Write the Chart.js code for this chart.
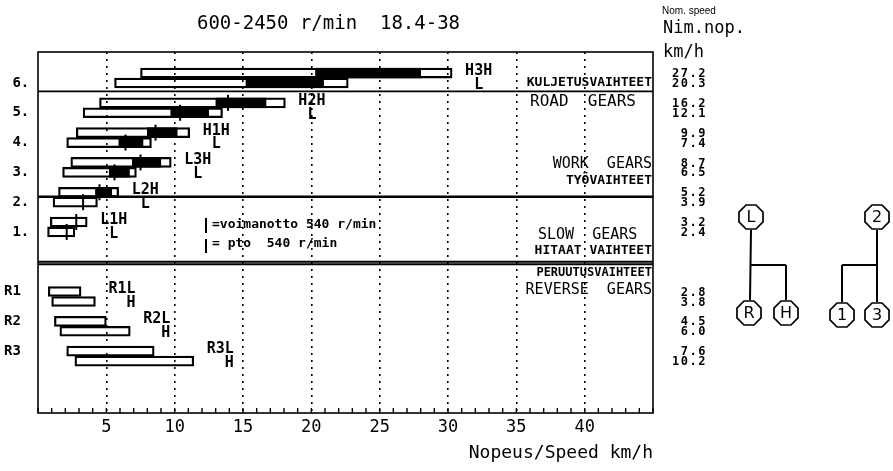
<!DOCTYPE html>
<html>
<head>
<meta charset="utf-8">
<script src="https://cdn.jsdelivr.net/npm/chart.js@4/dist/chart.umd.min.js"></script>
<style>
html, body { margin: 0; padding: 0; background: #fff; }
canvas { display: block; }
</style>
</head>
<body>
<canvas id="gearChart" width="893" height="471"></canvas>
<script>
// one entry per bar: upper/lower range of each gear (forward H/L, reverse L/H)
const rowSlots    = [0, 1, 3, 4, 6, 7, 9, 10, 12, 13, 15, 16, 22, 23, 25, 26, 28, 29];
const speedMin    = [7.5, 5.6, 4.5, 3.3, 2.8, 2.1, 2.4, 1.8, 1.5, 1.1, 0.9, 0.7, 0.75, 1.0, 1.2, 1.6, 2.1, 2.7];
const speedMax    = [30.3, 22.7, 18.1, 13.5, 11.1, 8.3, 9.75, 7.2, 5.9, 4.35, 3.6, 2.7, 3.15, 4.2, 5.0, 6.75, 8.5, 11.4];
const workMin     = [20.3, 15.2, 13.0, 9.7, 8.0, 5.9, 6.9, 5.2, 4.2, null, null, null, null, null, null, null, null, null];
const workMax     = [28.0, 20.9, 16.7, 12.5, 10.2, 7.7, 9.0, 6.7, 5.4, null, null, null, null, null, null, null, null, null];
const ptoSpeed    = [null, null, 13.9, 10.4, 8.6, 6.4, 7.5, 5.6, 4.5, 3.3, 2.8, 2.1, null, null, null, null, null, null];
const nominalSpeed = ['27.2', '20.3', '16.2', '12.1', '9.9', '7.4', '8.7', '6.5', '5.2', '3.9', '3.2', '2.4', '2.8', '3.8', '4.5', '6.0', '7.6', '10.2'];

const gearTicks  = [1, 4, 7, 10, 13, 16, 22, 25, 28];
const gearLabels = [' 6.', ' 5.', ' 4.', ' 3.', ' 2.', ' 1.', 'R1', 'R2', 'R3'];
const rangeNames = ['H3H', 'H2H', 'H1H', 'L3H', 'L2H', 'L1H', 'R1L', 'R2L', 'R3L'];
const rangeLower = ['L', 'L', 'L', 'L', 'L', 'L', 'H', 'H', 'H'];
const sectionBreaks = [1.85, 12.45, 19.0, 19.25];

const MONO = '"DejaVu Sans Mono", monospace';

function txt(ctx, s, x, y, font, align, spacing) {
    ctx.font = font;
    ctx.textAlign = align || 'left';
    ctx.textBaseline = 'middle';
    ctx.letterSpacing = (spacing || 0) + 'px';
    ctx.fillText(s, x, y);
    ctx.letterSpacing = '0px';
}

function octagon(ctx, cx, cy, r, label) {
    ctx.beginPath();
    for (let k = 0; k < 8; k++) {
        const a = Math.PI / 8 + k * Math.PI / 4;
        const px = cx + r * Math.cos(a), py = cy + r * Math.sin(a);
        if (k === 0) ctx.moveTo(px, py); else ctx.lineTo(px, py);
    }
    ctx.closePath();
    ctx.stroke();
    txt(ctx, label, cx, cy + 1, '16px "DejaVu Sans"', 'center');
}

function line(ctx, x1, y1, x2, y2, w) {
    ctx.lineWidth = w;
    ctx.beginPath();
    ctx.moveTo(x1, y1);
    ctx.lineTo(x2, y2);
    ctx.stroke();
}

const gearDecor = {
    id: 'gearDecor',
    afterDatasetsDraw(chart) {
        const ctx = chart.ctx;
        const area = chart.chartArea;
        const xs = chart.scales.x, ys = chart.scales.y;
        ctx.save();
        ctx.strokeStyle = '#000';
        ctx.fillStyle = '#000';

        // frame and section lines
        ctx.lineWidth = 1.6;
        ctx.strokeRect(area.left, area.top, area.right - area.left, area.bottom - area.top);
        sectionBreaks.forEach((v, i) => {
            const y = ys.getPixelForValue(v);
            line(ctx, area.left, y, area.right, y, i === 1 ? 2.6 : 1.8);
        });

        // small ticks inside the bottom border
        xs.ticks.forEach(t => {
            const x = xs.getPixelForValue(t.value);
            line(ctx, x, area.bottom, x, area.bottom - 5, 1.4);
        });

        // gear names next to the bars
        for (let g = 0; g < rangeNames.length; g++) {
            const a = 2 * g, b = 2 * g + 1;
            const x0 = xs.getPixelForValue(Math.max(speedMax[a], speedMax[b])) + 13;
            const font = 'bold 15px ' + MONO;
            txt(ctx, rangeNames[g], x0, ys.getPixelForValue(rowSlots[a]) - 2, font);
            ctx.font = font;
            const cw = ctx.measureText('M').width;
            txt(ctx, rangeLower[g], x0 + (g < 6 ? 1 : 2) * cw, ys.getPixelForValue(rowSlots[b]) + 2, font);
        }

        // group notes at the right of the plot
        const r = area.right - 1;
        const fin = 'bold 13px ' + MONO, eng = '15px ' + MONO;
        txt(ctx, 'KULJETUSVAIHTEET', r, ys.getPixelForValue(0.95), fin, 'right');
        txt(ctx, 'ROAD  GEARS', 530, ys.getPixelForValue(2.86), '16px ' + MONO, 'left');
        txt(ctx, 'WORK  GEARS', r, ys.getPixelForValue(9.16), eng, 'right');
        txt(ctx, 'TYÖVAIHTEET', r, ys.getPixelForValue(10.87), fin, 'right');
        txt(ctx, 'SLOW  GEARS', 538, ys.getPixelForValue(16.3), eng, 'left');
        txt(ctx, 'HITAAT VAIHTEET', r, ys.getPixelForValue(17.9), fin, 'right');
        txt(ctx, 'PERUUTUSVAIHTEET', r, ys.getPixelForValue(20.1), 'bold 12px ' + MONO, 'right');
        txt(ctx, 'REVERSE  GEARS', r, ys.getPixelForValue(21.85), eng, 'right');

        // pto legend
        line(ctx, 206, 218, 206, 233, 2);
        line(ctx, 206, 239, 206, 253, 2);
        txt(ctx, '=voimanotto 540 r/min', 212, 225, 'bold 13px ' + MONO);
        txt(ctx, '= pto  540 r/min', 212, 244, 'bold 13px ' + MONO);

        // nominal speed column
        txt(ctx, 'Nom. speed', 662, 11, '10px "Liberation Sans"');
        txt(ctx, 'Nim.nop.', 663, 29, '17px ' + MONO);
        txt(ctx, 'km/h', 663, 53, '17px ' + MONO);
        nominalSpeed.forEach((s, i) => {
            txt(ctx, s, 707, ys.getPixelForValue(rowSlots[i]) + 1, 'bold 12px ' + MONO, 'right', 1.5);
        });

        // shift patterns
        ctx.lineWidth = 1.7;
        octagon(ctx, 751, 217, 13, 'L');
        octagon(ctx, 749, 313, 13, 'R');
        octagon(ctx, 786, 313, 13, 'H');
        line(ctx, 751, 230, 750, 300, 2);
        line(ctx, 751, 265, 786, 265, 2);
        line(ctx, 786, 265, 786, 300, 2);
        ctx.lineWidth = 1.7;
        octagon(ctx, 877, 217, 13, '2');
        octagon(ctx, 842, 315, 13, '1');
        octagon(ctx, 877, 315, 13, '3');
        line(ctx, 877, 230, 877, 302, 2);
        line(ctx, 842, 265, 877, 265, 2);
        line(ctx, 842, 265, 842, 302, 2);

        ctx.restore();
    }
};

const rangeBars = rowSlots.map((s, i) => ({ x: [speedMin[i], speedMax[i]], y: s }));
const workBars = rowSlots
    .map((s, i) => (workMin[i] === null ? null : { x: [workMin[i], workMax[i]], y: s }))
    .filter(d => d !== null);
const ptoMarks = rowSlots
    .map((s, i) => (ptoSpeed[i] === null ? null : { x: ptoSpeed[i], y: s }))
    .filter(d => d !== null);

const gearChart = new Chart(document.getElementById('gearChart').getContext('2d'), {
    type: 'bar',
    data: {
        datasets: [{
            type: 'bar',
            indexAxis: 'y',
            data: rangeBars,
            backgroundColor: 'rgba(0,0,0,0)',
            borderColor: '#000',
            borderWidth: 1.6,
            borderSkipped: false,
            barThickness: 10,
            grouped: false,
            order: 3
        }, {
            type: 'bar',
            indexAxis: 'y',
            data: workBars,
            backgroundColor: '#000',
            borderColor: '#000',
            borderWidth: 1,
            borderSkipped: false,
            barThickness: 10,
            grouped: false,
            order: 2
        }, {
            type: 'scatter',
            data: ptoMarks,
            pointStyle: 'line',
            rotation: 90,
            radius: 8,
            borderWidth: 2,
            borderColor: '#000',
            order: 1
        }]
    },
    options: {
        responsive: false,
        animation: false,
        devicePixelRatio: 1,
        layout: { padding: { top: 0, right: 240, left: 4, bottom: 0 } },
        plugins: {
            legend: { display: false },
            tooltip: { enabled: false },
            title: {
                display: true,
                text: '600-2450 r/min  18.4-38',
                color: '#000',
                font: { family: MONO, size: 19, weight: 'normal' },
                padding: { top: 12.6, bottom: 16.6 }
            }
        },
        scales: {
            x: {
                type: 'linear',
                min: 0,
                max: 45,
                offset: false,
                afterFit: s => { s.height = 58; },
                border: { display: false, dash: [2, 5] },
                grid: {
                    drawTicks: false,
                    offset: false,
                    lineWidth: 1.6,
                    color: c => (c.tick && c.tick.value % 5 === 0 && c.tick.value > 0 && c.tick.value < 45) ? '#000' : 'rgba(0,0,0,0)'
                },
                ticks: {
                    stepSize: 1,
                    autoSkip: false,
                    maxRotation: 0,
                    padding: 4,
                    color: '#000',
                    font: { family: MONO, size: 17 },
                    callback: v => (v % 5 === 0 && v > 0 && v < 45) ? String(v) : ''
                },
                title: {
                    display: true,
                    text: 'Nopeus/Speed km/h',
                    align: 'end',
                    color: '#000',
                    font: { family: MONO, size: 18 },
                    padding: { top: 4, bottom: 7 }
                }
            },
            y: {
                type: 'linear',
                min: -2.12,
                max: 34.23,
                reverse: true,
                offset: false,
                afterBuildTicks: s => { s.ticks = gearTicks.map(v => ({ value: v })); },
                afterFit: s => { s.width = 34; },
                border: { display: false },
                grid: { display: false },
                ticks: {
                    crossAlign: 'far',
                    padding: 0,
                    color: '#000',
                    font: { family: MONO, size: 14, weight: 'bold' },
                    callback: (v, i) => gearLabels[i]
                }
            }
        }
    },
    plugins: [gearDecor]
});
</script>
</body>
</html>
